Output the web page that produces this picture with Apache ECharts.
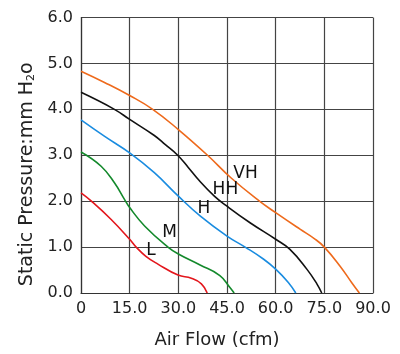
<!DOCTYPE html>
<html>
<head>
<meta charset="utf-8">
<script src="https://cdn.jsdelivr.net/npm/echarts@6/dist/echarts.min.js"></script>
<style>
  html, body { margin: 0; padding: 0; background: #fff; }
  #chart { width: 400px; height: 354px; }
</style>
</head>
<body>
<div id="chart"></div>
<script>
// fan curves, [airflow cfm, static pressure mmH2O]
const vhData = [[0, 4.83], [7.4, 4.58], [15, 4.30], [22.1, 4.0], [30, 3.56], [39, 3.0], [46.2, 2.51], [55, 2.0], [60, 1.75], [67.5, 1.39], [72, 1.18], [75, 1.0], [79.8, 0.59], [83.4, 0.23], [85.8, 0]];
const hhData = [[0, 4.37], [10.3, 4.0], [15, 3.78], [22.6, 3.43], [26, 3.23], [29.8, 3.0], [33, 2.74], [36.3, 2.46], [41.1, 2.11], [45, 1.89], [52.1, 1.53], [60, 1.17], [64.4, 0.95], [69.6, 0.52], [72.7, 0.2], [74.2, 0]];
const hData = [[0, 3.77], [7.3, 3.41], [15, 3.05], [22.6, 2.62], [30, 2.11], [36.7, 1.68], [45, 1.24], [50.6, 1.0], [56.2, 0.74], [60, 0.52], [63.9, 0.23], [66.2, 0]];
const mData = [[0, 3.07], [6.2, 2.76], [10.3, 2.40], [13.4, 2.04], [15, 1.86], [19.6, 1.46], [26.8, 1.0], [30, 0.85], [36.7, 0.61], [42.8, 0.38], [45.9, 0.12], [47.2, 0]];
const lData = [[0, 2.18], [3.2, 2.0], [9.3, 1.6], [15, 1.17], [17, 1.0], [20, 0.8], [23.7, 0.63], [29.9, 0.39], [34, 0.32], [37.1, 0.2], [38.9, 0]];

const seriesNames = ['VH', 'HH', 'H', 'M', 'L'];
const seriesColors = ['#ee6a1c', '#111111', '#1a8ce0', '#14892c', '#e3161c'];
const labelPos = [[50.7, 2.60], [44.5, 2.26], [37.9, 1.83], [27.3, 1.31], [21.6, 0.92]];

const xTicks = ['0', '15.0', '30.0', '45.0', '60.0', '75.0', '90.0'];
const yTicks = ['0.0', '1.0', '2.0', '3.0', '4.0', '5.0', '6.0'];

const chart = echarts.init(document.getElementById('chart'));
const font = 'DejaVu Sans, sans-serif';

const allData = [vhData, hhData, hData, mData, lData];

const option = {
  animation: false,
  grid: { left: 81, right: 27, top: 17.5, bottom: 60 },
  xAxis: {
    type: 'value',
    min: 0, max: 90, interval: 15,
    name: 'Air Flow (cfm)',
    nameLocation: 'middle',
    nameGap: 38,
    nameTextStyle: { color: '#222', fontSize: 18, fontFamily: font, padding: [0, 20, 0, 0] },
    axisLine: { lineStyle: { color: '#333', width: 1.2 } },
    axisTick: { show: false },
    splitLine: { lineStyle: { color: '#444', width: 1.2 } },
    axisLabel: {
      color: '#222', fontSize: 16, fontFamily: font, margin: 8,
      formatter: (v) => xTicks[Math.round(v / 15)],
    },
  },
  yAxis: {
    type: 'value',
    min: 0, max: 6, interval: 1,
    name: 'Static Pressure:mm H{sub|2}o',
    nameLocation: 'middle',
    nameGap: 37,
    nameTextStyle: {
      color: '#222', fontSize: 19, fontFamily: font, padding: [0, 38, 0, 0],
      rich: { sub: { fontSize: 11, fontFamily: font, color: '#222', verticalAlign: 'bottom', padding: [7, 0, 0, 0] } },
    },
    axisLine: { show: true, lineStyle: { color: '#333', width: 1.2 } },
    axisTick: { show: false },
    splitLine: { lineStyle: { color: '#444', width: 1.2 } },
    axisLabel: {
      color: '#222', fontSize: 16, fontFamily: font, margin: 8,
      formatter: (v) => yTicks[Math.round(v)],
    },
  },
  series: seriesNames.map((name, i) => ({
    name,
    type: 'line',
    data: allData[i],
    smooth: 0.45,
    symbol: 'none',
    lineStyle: { color: seriesColors[i], width: 1.6 },
    markPoint: {
      symbol: 'circle',
      symbolSize: 0,
      data: [{ coord: labelPos[i] }],
      label: {
        show: true, position: 'inside', formatter: name,
        color: '#111', fontSize: 17, fontFamily: font,
      },
    },
  })),
};

chart.setOption(option);
</script>
</body>
</html>
